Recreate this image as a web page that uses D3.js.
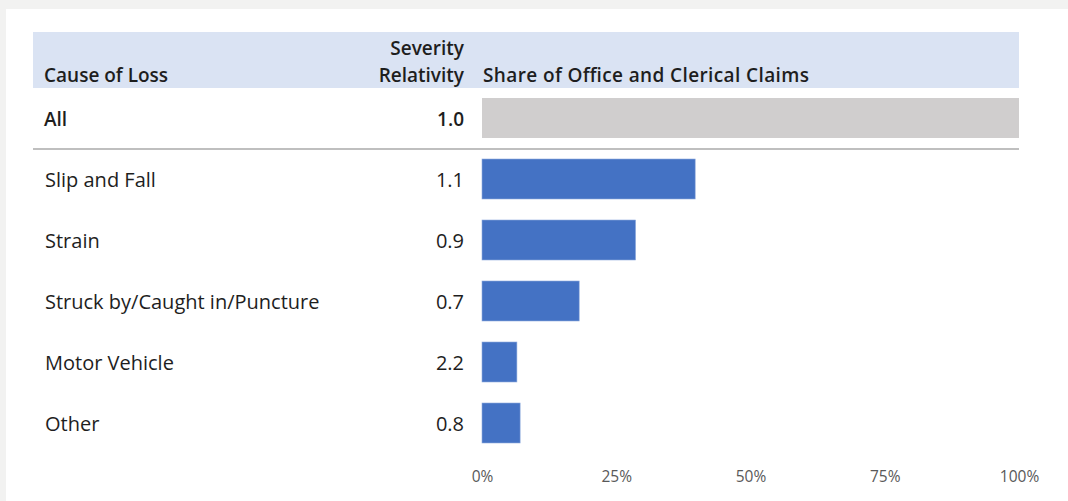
<!DOCTYPE html>
<html><head><meta charset="utf-8">
<script src="https://cdn.jsdelivr.net/npm/d3@7"></script>
<style>
html,body{margin:0;padding:0;background:#f2f2f1;}
svg{display:block;}
text{font-family:"Open Sans",sans-serif;}
</style></head>
<body>
<svg id="chart" width="1068" height="501"></svg>
<script>
const causes = ["Slip and Fall","Strain","Struck by/Caught in/Puncture","Motor Vehicle","Other"];
const severity = ["1.1","0.9","0.7","2.2","0.8"];
const share = [0.397, 0.286, 0.181, 0.065, 0.071];
const allLabel = "All";
const allSeverity = "1.0";
const allShare = 1.0;
const tickValues = [0, 0.25, 0.5, 0.75, 1.0];

const svg = d3.select("#chart");
svg.append("rect").attr("x",6).attr("y",9).attr("width",1062).attr("height",492).attr("fill","#ffffff");

const left = 33, right = 1019, barX0 = 482;
const x = d3.scaleLinear().domain([0,1]).range([barX0, right]);
const y = d3.scaleBand().domain(causes).range([159, 159+61*5-21]).paddingInner(21/61);

const FS = 20, HFS = 19, TXT = "#1e1e1e";
// header band
svg.append("rect").attr("x",left).attr("y",32).attr("width",right-left).attr("height",56).attr("fill","#dae3f3");
const hdr = svg.append("g").attr("font-weight","600").attr("font-size",HFS).attr("fill",TXT);
hdr.append("text").attr("x",44).attr("y",82).text("Cause of Loss");
hdr.append("text").attr("x",464).attr("y",55).attr("text-anchor","end").text("Severity");
hdr.append("text").attr("x",464).attr("y",82).attr("text-anchor","end").text("Relativity");
hdr.append("text").attr("x",483).attr("y",82).attr("textLength",326).attr("lengthAdjust","spacing").text("Share of Office and Clerical Claims");

// All row
svg.append("rect").attr("x",x(0)).attr("y",98).attr("width",x(allShare)-x(0)).attr("height",40).attr("fill","#d0cece");
svg.append("text").attr("x",44).attr("y",126).attr("font-weight","600").attr("font-size",HFS).attr("fill",TXT).text(allLabel);
svg.append("text").attr("x",464).attr("y",126).attr("text-anchor","end").attr("font-weight","600").attr("font-size",HFS).attr("fill",TXT).text(allSeverity);

// separator
svg.append("line").attr("x1",left).attr("x2",right).attr("y1",149).attr("y2",149).attr("stroke","#bfbfbf").attr("stroke-width",2);

// bars
const rows = causes.map((c,i)=>({c, s:severity[i], v:share[i]}));
svg.append("g").selectAll("rect").data(rows).join("rect")
  .attr("x",x(0)).attr("y",d=>y(d.c)).attr("width",d=>x(d.v)-x(0)).attr("height",y.bandwidth())
  .attr("fill","#4472c4").attr("stroke","#8faadc").attr("stroke-width",0.6);
svg.append("g").selectAll("text").data(rows).join("text")
  .attr("x",45).attr("y",d=>y(d.c)+y.bandwidth()/2).attr("dy","0.4em")
  .attr("font-size",FS).attr("fill",TXT).text(d=>d.c);
svg.append("g").selectAll("text").data(rows).join("text")
  .attr("x",464).attr("y",d=>y(d.c)+y.bandwidth()/2).attr("dy","0.4em").attr("text-anchor","end")
  .attr("font-size",FS).attr("fill",TXT).text(d=>d.s);

// axis
const axis = d3.axisBottom(x).tickValues(tickValues).tickFormat(d3.format(".0%")).tickSize(0).tickPadding(0);
const ag = svg.append("g").attr("transform","translate(0,471)").call(axis);
ag.select(".domain").remove();
ag.selectAll("text").attr("font-size",15.5).attr("fill","#595959").attr("font-family","'Open Sans',sans-serif");
</script>
</body></html>
